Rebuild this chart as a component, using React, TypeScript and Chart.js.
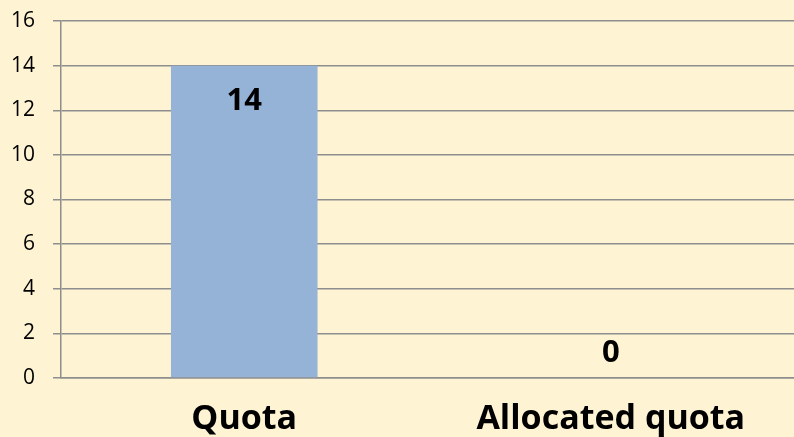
import React, { useEffect, useRef } from "react";
import { Chart, registerables } from "chart.js";

Chart.register(...registerables);

const categories: string[] = ["Quota", "Allocated quota"];
const values: number[] = [14, 0];
const yMin = 0;
const yMax = 16;
const yStep = 2;

const BG = "#FEF3D3";
const BAR = "#95B3D7";
const GRID = "#8e8e8e";
const FONT = "'Open Sans', 'DejaVu Sans', sans-serif";

const bgPlugin = {
  id: "bgFill",
  beforeDraw(chart: any) {
    const { ctx, width, height } = chart;
    ctx.save();
    ctx.fillStyle = BG;
    ctx.fillRect(0, 0, width, height);
    ctx.restore();
  },
};

const labelPlugin = {
  id: "valueLabels",
  afterDatasetsDraw(chart: any) {
    const { ctx } = chart;
    const meta = chart.getDatasetMeta(0);
    ctx.save();
    ctx.fillStyle = "#000000";
    ctx.font = `bold 31px ${FONT}`;
    ctx.textAlign = "center";
    ctx.textBaseline = "middle";
    meta.data.forEach((el: any, i: number) => {
      const v = values[i];
      const y = v > 0 ? el.y + 36 : el.base - 25;
      ctx.fillText(String(v), el.x, y);
    });
    ctx.restore();
  },
};

export default function App() {
  const ref = useRef<HTMLCanvasElement | null>(null);
  useEffect(() => {
    document.body.style.margin = "0";
    document.body.style.background = BG;
    const canvas = ref.current!;
    const chart = new Chart(canvas, {
      type: "bar",
      data: {
        labels: categories,
        datasets: [
          {
            data: values,
            backgroundColor: BAR,
            borderWidth: 0,
            barPercentage: 0.4,
            categoryPercentage: 1,
          },
        ],
      },
      options: {
        responsive: false,
        animation: false,
        devicePixelRatio: 1,
        layout: { padding: { top: 21, left: 0, right: 0, bottom: 0 } },
        plugins: {
          legend: { display: false },
          tooltip: { enabled: false },
        },
        scales: {
          x: {
            grid: { display: false, drawTicks: false },
            border: { display: true, color: GRID, width: 1.5 },
            ticks: {
              color: "#000000",
              font: { family: FONT, size: 34, weight: "bold" },
              padding: 21,
              maxRotation: 0,
              autoSkip: false,
            },
            afterFit(scale: any) {
              scale.height = 59;
              scale.paddingLeft = 0;
              scale.paddingRight = 0;
            },
          },
          y: {
            min: yMin,
            max: yMax,
            grid: {
              color: GRID,
              lineWidth: 1.5,
              drawTicks: true,
              tickLength: 8,
            },
            border: { display: true, color: GRID, width: 1.5 },
            ticks: {
              stepSize: yStep,
              color: "#000000",
              font: { family: FONT, size: 21 },
              padding: 18,
            },
            afterFit(scale: any) {
              scale.width = 61;
              scale.paddingTop = 0;
              scale.paddingBottom = 0;
            },
          },
        },
      },
      plugins: [bgPlugin, labelPlugin],
    });
    return () => chart.destroy();
  }, []);

  return (
    <div style={{ position: "fixed", left: 0, top: 0, width: 794, height: 437, background: BG }}>
      <canvas ref={ref} width={794} height={437} style={{ display: "block", width: 794, height: 437 }} />
    </div>
  );
}
